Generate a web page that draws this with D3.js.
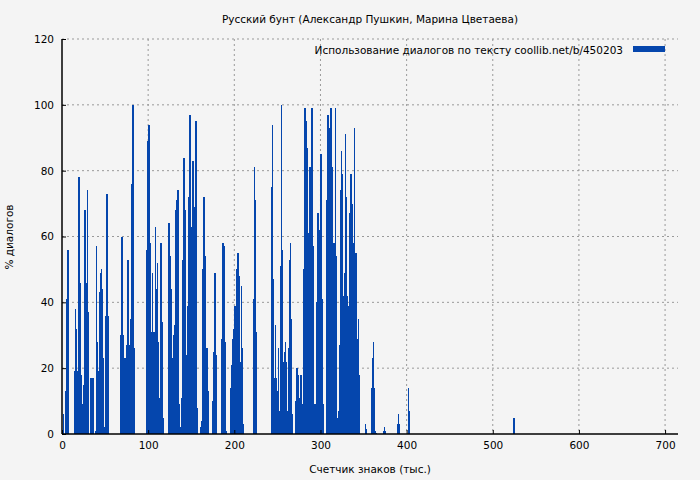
<!DOCTYPE html>
<html>
<head>
<meta charset="utf-8">
<script src="https://cdn.jsdelivr.net/npm/d3@7"></script>
<style>
body { margin: 0; background: #f4f4f4; }
text { font-family: "DejaVu Sans", sans-serif; font-size: 10.5px; fill: #000; }
</style>
</head>
<body>
<svg width="700" height="480"></svg>
<script>
// thousands of characters, % dialogues
var pos = [1,4,5,6,7,
  14,15,16,17,19,20,21,22,23,24,26,27,28,29,30,33,35,
  38,39.5,40.7,41.9,43,44.2,45.3,46.5,47.7,48.8,50.4,51.6,52.7,
  67.8,69,70,71.3,72.4,73.6,74.8,76,77,78.3,79.5,80.6,81.8,83,
  98,99,100,101.6,102.7,104,105,106.2,107.4,108.5,109.7,110.9,112,113.2,114.3,115.5,116.7,
  122.5,123.6,124.8,126,127,128.3,129.5,130.6,131.8,133,134,135.3,136.5,
  138.4,139.5,140.7,141.9,143,144.2,145.4,146.5,147.7,148.9,150,151.2,152.4,153.5,154.7,155.9,
  160.5,161.7,162.8,164,165.2,166.4,167.5,168.7,174.5,175.7,176.8,178,
  185,186.2,187.3,188.5,189.7,195.5,196.7,197.9,199,200.2,201.4,202.5,203.7,204.9,206,207.2,208.4,209.6,
  221.2,222.4,223.6,224.7,
  242.2,243.4,244.6,245.7,246.9,248,249.2,250.4,251.6,252.7,253.9,255,256.2,257.4,258.6,259.7,260.9,262,263.3,264.4,265.6,266.7,
  271,272,273.3,274.4,275.6,276.7,278,280.2,281.4,282.5,283.7,284.9,286,287.2,288.4,289.5,290.7,291.9,293,294.2,295.4,296.5,297.7,298.9,300,301.2,302.4,
  307,308.1,309.3,310.5,311.6,312.8,314,315.1,316.3,317.5,318.6,319.8,321,322.1,323.3,324.5,325.6,326.8,328,329.1,330.3,331.5,332.6,333.8,335,336.1,337.3,338.5,339.6,340.8,342,343.1,344.3,
  351.2,352.4,358.2,359.4,360.6,361.7,362.9,364,372.2,373.3,374.5,388.5,389.6,390.8,401.3,402.4,523,524];
var pct = [6,13,41,56,28,
  19,38,32,19,78,46,9,18,9,15,68,37,46,74,37,17,17,
  1,57,28,19,43,49,50,44,23,2,36,73,36,
  30,60,30,11,23,11,27,53,27,17,35,76,100,26,
  56,89,94,58,31,49,25,31,63,44,52,28,11,40,58,34,5,
  32,64,54,44,23,30,33,68,71,49,74,9,2,
  11,53,84,68,24,11,39,72,97,63,41,83,62,69,95,8,
  2,4,50,72,54,18,26,13,10,25,49,24,
  29,58,57,28,1,14,21,29,32,39,50,32,55,48,22,45,26,3,
  41,81,71,31,
  75,94,47,17,33,17,13,26,7,51,100,56,22,25,28,22,7,26,53,58,35,6,
  10,20,18,11,9,18,9,50,99,95,87,61,48,81,79,99,57,7,9,7,40,67,62,57,85,41,9,
  71,97,93,96,99,81,41,58,99,54,5,7,27,74,86,79,42,49,91,72,42,39,67,79,79,70,58,93,55,55,29,35,18,
  3,1.5,14,23,28,14,1,0.3,1,2,1,3,6,3,14,7,2,5];
var xTicks = [0,100,200,300,400,500,600,700];
var yTicks = [0,20,40,60,80,100,120];

var svg = d3.select("svg");
var x = d3.scaleLinear().domain([0, 715]).range([62, 678]);
var y = d3.scaleLinear().domain([0, 120]).range([434, 39]);

svg.append("rect").attr("width", 700).attr("height", 480).attr("fill", "#f4f4f4");

// grid
svg.append("g").selectAll("line").data(xTicks.slice(1)).enter().append("line")
  .attr("x1", d => x(d)).attr("x2", d => x(d)).attr("y1", 39).attr("y2", 434)
  .attr("stroke", "#999").attr("stroke-dasharray", "2,3");
svg.append("g").selectAll("line").data(yTicks.slice(1)).enter().append("line")
  .attr("x1", 62).attr("x2", 678).attr("y1", d => y(d)).attr("y2", d => y(d))
  .attr("stroke", "#999").attr("stroke-dasharray", "2,3");

// bars
var bw = x(1.6) - x(0);
svg.append("g").attr("shape-rendering", "crispEdges")
  .selectAll("rect").data(pos).enter().append("rect")
  .attr("x", d => x(d))
  .attr("y", (d, i) => y(pct[i]))
  .attr("width", bw)
  .attr("height", (d, i) => y(0) - y(pct[i]))
  .attr("fill", "#0546ad");

var xa = svg.append("g").attr("transform", "translate(0,434)")
  .call(d3.axisBottom(x).tickValues(xTicks).tickSize(-4).tickPadding(8));
var ya = svg.append("g").attr("transform", "translate(62,0)")
  .call(d3.axisLeft(y).tickValues(yTicks).tickSize(-4).tickPadding(8));
[xa, ya].forEach(function (a) {
  a.select(".domain").attr("stroke", "#000").attr("stroke-width", 1.5);
  a.selectAll("line").attr("stroke", "#000");
  a.selectAll("text").style("font-family", "DejaVu Sans").style("font-size", "10.5px");
});
ya.select(".domain").attr("d", "M0,39V434");
xa.select(".domain").attr("d", "M62,0H678");

svg.append("text").attr("x", 370).attr("y", 23).attr("text-anchor", "middle")
  .text("Русский бунт (Александр Пушкин, Марина Цветаева)");
svg.append("text").attr("x", 370).attr("y", 473).attr("text-anchor", "middle")
  .text("Счетчик знаков (тыс.)");
svg.append("text").attr("transform", "translate(13,237) rotate(-90)").attr("text-anchor", "middle")
  .text("% диалогов");

svg.append("text").attr("x", 623).attr("y", 54).attr("text-anchor", "end")
  .text("Использование диалогов по тексту  coollib.net/b/450203");
svg.append("rect").attr("x", 633).attr("y", 46).attr("width", 32).attr("height", 6).attr("fill", "#0546ad");
</script>
</body>
</html>
